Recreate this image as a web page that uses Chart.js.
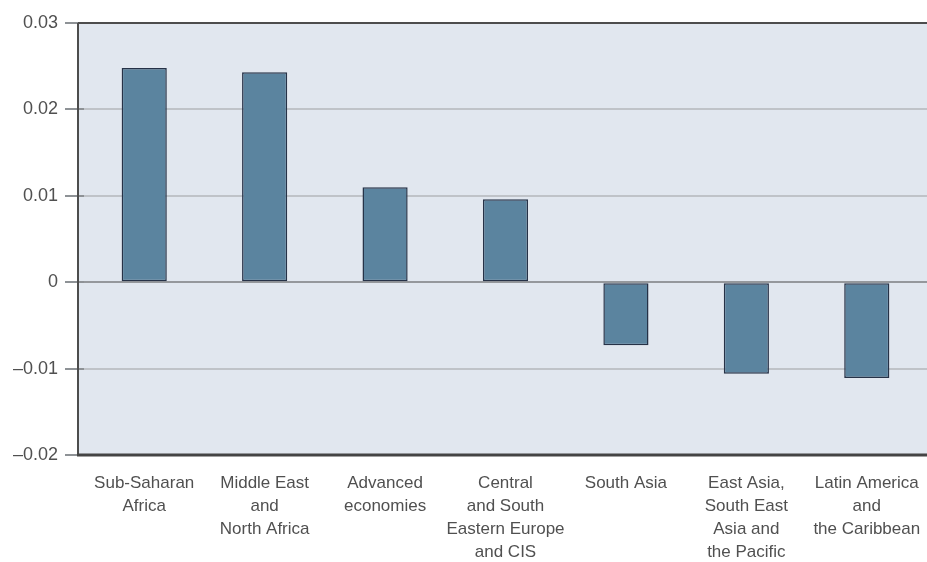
<!DOCTYPE html>
<html>
<head>
<meta charset="utf-8">
<script src="https://cdn.jsdelivr.net/npm/chart.js@4/dist/chart.umd.min.js"></script>
<style>
  body { margin: 0; background: #fff; }
  #wrap { width: 927px; height: 562px; }
</style>
</head>
<body>
<div id="wrap"><canvas id="chart" width="927" height="562"></canvas></div>
<script>
// regions along the x axis
const regions = [
    ['Sub-Saharan', 'Africa'],
    ['Middle East', 'and', 'North Africa'],
    ['Advanced', 'economies'],
    ['Central', 'and South', 'Eastern Europe', 'and CIS'],
    ['South Asia'],
    ['East Asia,', 'South East', 'Asia and', 'the Pacific'],
    ['Latin America', 'and', 'the Caribbean']
];
const values = [0.0248, 0.0243, 0.0110, 0.0096, -0.0073, -0.0106, -0.0111];
const yMin = -0.02;
const yMax = 0.03;
const yStep = 0.01;

// background + frame lines, plot box starts a bit left of the first category
const frame = {
    id: 'frame',
    beforeDraw(chart) {
        const { ctx, chartArea: a } = chart;
        ctx.save();
        ctx.fillStyle = '#e1e7ef';
        ctx.fillRect(a.left - 6, a.top, a.right - a.left + 6, a.bottom - a.top);
        ctx.restore();
    },
    afterDatasetsDraw(chart) {
        const { ctx, chartArea: a } = chart;
        ctx.save();
        ctx.strokeStyle = '#4d4d4d';
        ctx.lineWidth = 2;
        ctx.beginPath();
        ctx.moveTo(a.left - 6, a.top);
        ctx.lineTo(a.right, a.top);
        ctx.moveTo(a.left - 6, a.top);
        ctx.lineTo(a.left - 6, a.bottom);
        ctx.stroke();
        ctx.lineWidth = 3;
        ctx.strokeStyle = '#444';
        ctx.beginPath();
        ctx.moveTo(a.left - 7, a.bottom);
        ctx.lineTo(a.right, a.bottom);
        ctx.stroke();
        ctx.restore();
    }
};

new Chart(document.getElementById('chart'), {
    type: 'bar',
    data: {
        labels: regions,
        datasets: [{
            data: values,
            backgroundColor: '#5b849f',
            borderColor: '#263247',
            borderWidth: 1.5,
            borderSkipped: false,
            barPercentage: 0.375,
            categoryPercentage: 1
        }]
    },
    options: {
        responsive: false,
        animation: false,
        layout: { padding: { top: 23, right: 0, bottom: 0, left: 0 } },
        plugins: {
            legend: { display: false },
            tooltip: { enabled: false }
        },
        scales: {
            x: {
                afterFit(scale) {
                    scale.height = 107;
                    scale.paddingRight = 0;
                },
                grid: { display: false, drawTicks: false },
                border: { display: false },
                ticks: {
                    padding: 17,
                    color: '#505050',
                    maxRotation: 0,
                    autoSkip: false,
                    font: { family: 'Liberation Sans, Arial, sans-serif', size: 17, lineHeight: 1.35 }
                }
            },
            y: {
                min: yMin,
                max: yMax,
                afterFit(scale) { scale.width = 84; },
                grid: {
                    color: ctx => Math.abs(ctx.tick.value) < 1e-9 ? '#95989c' : '#bfc3c8',
                    lineWidth: 2,
                    tickLength: 19,
                    tickColor: '#8e9296',
                    tickWidth: 2
                },
                border: { display: false },
                ticks: {
                    stepSize: yStep,
                    padding: 7,
                    color: '#505050',
                    font: { family: 'Liberation Sans, Arial, sans-serif', size: 18 },
                    callback: v => Math.abs(v) < 1e-9 ? '0' : v.toFixed(2).replace('-', '\u2013')
                }
            }
        }
    },
    plugins: [frame]
});
</script>
</body>
</html>
